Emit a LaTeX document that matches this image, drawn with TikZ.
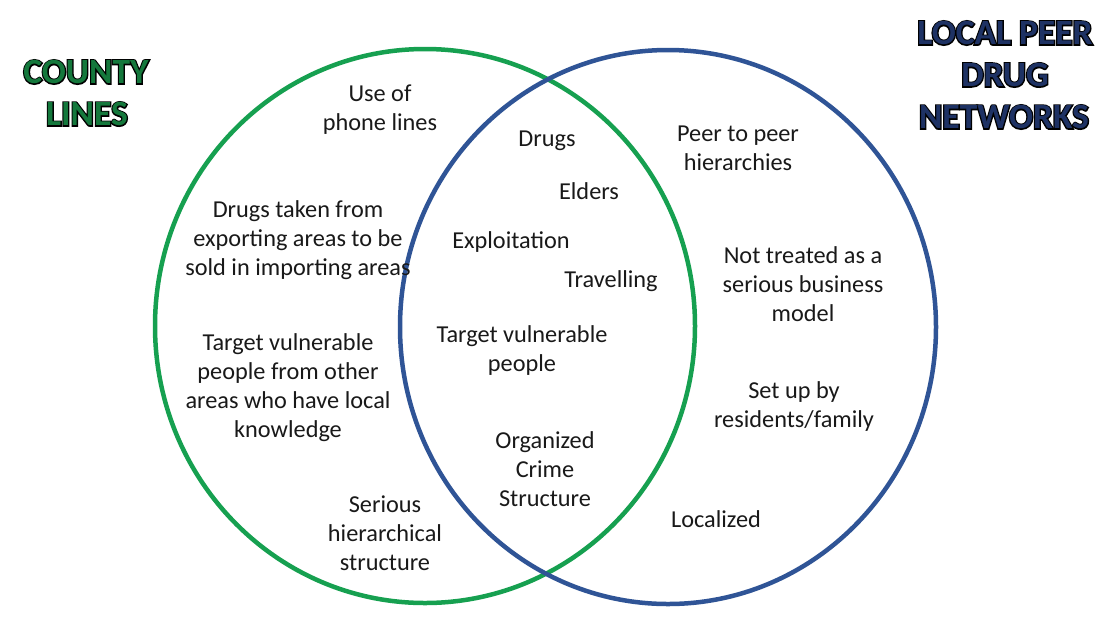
\documentclass[tikz,border=0pt]{standalone}
\usepackage{fontspec}
\setmainfont{Carlito}
\newfontfamily\ttlback[FakeBold=7]{Carlito Bold}
\newfontfamily\ttlfront{Carlito Bold}
\definecolor{vgreen}{RGB}{22,160,80}
\definecolor{vblue}{RGB}{47,84,150}
\definecolor{tgreen}{RGB}{20,120,60}
\definecolor{tblue}{RGB}{30,50,100}
\begin{document}
\begin{tikzpicture}[x=1pt,y=-1pt,
  lbl/.style={align=center,inner sep=0pt,text=black!90,font=\fontsize{24.3}{29}\selectfont},
  ttlb/.style={inner sep=0pt,text=black,font=\fontsize{35.5}{40}\ttlback},
  ttlf/.style={inner sep=0pt,font=\fontsize{35.5}{40}\ttlfront},
  ring/.style={line width=4.5pt}]
\fill[white] (0,0) rectangle (1106,625);
\useasboundingbox (0,0) rectangle (1106,625);
\draw[ring,vgreen] (425,326) ellipse [x radius=270, y radius=277];
\draw[ring,vblue] (668,327) ellipse [x radius=268, y radius=277];
% titles: dark outline drawn beneath the coloured letters
\node[ttlb] (t1b) at (86,72) {COUNTY};
\node[ttlf,text=tgreen] (t1) at (t1b) {COUNTY};
\node[ttlb] (t2b) at (87,114) {LINES};
\node[ttlf,text=tgreen] (t2) at (t2b) {LINES};
\node[ttlb] (t3b) at (1005,33) {LOCAL PEER};
\node[ttlf,text=tblue] (t3) at (t3b) {LOCAL PEER};
\node[ttlb] (t4b) at (1005,75) {DRUG};
\node[ttlf,text=tblue] (t4) at (t4b) {DRUG};
\node[ttlb] (t5b) at (1004,117) {NETWORKS};
\node[ttlf,text=tblue] (t5) at (t5b) {NETWORKS};
% left
\node[lbl] (a1) at (380,110) {Use of\\phone lines};
\node[lbl] (a2) at (298,240) {Drugs taken from\\exporting areas to be\\sold in importing areas};
\node[lbl] (a3) at (288,388) {Target vulnerable\\people from other\\areas who have local\\knowledge};
\node[lbl] (a4) at (385,533) {Serious\\hierarchical\\structure};
% middle
\node[lbl] (m1) at (547,141) {Drugs};
\node[lbl] (m2) at (589,191) {Elders};
\node[lbl] (m3) at (511,242) {Exploitation};
\node[lbl] (m4) at (611,281) {Travelling};
\node[lbl] (m5) at (522,351) {Target vulnerable\\people};
\node[lbl] (m6) at (545,469) {Organized\\Crime\\Structure};
% right
\node[lbl] (r1) at (738,148) {Peer to peer\\hierarchies};
\node[lbl] (r2) at (803,284) {Not treated as a\\serious business\\model};
\node[lbl] (r3) at (794,407) {Set up by\\residents/family};
\node[lbl] (r4) at (716,519) {Localized};
\end{tikzpicture}
\end{document}
